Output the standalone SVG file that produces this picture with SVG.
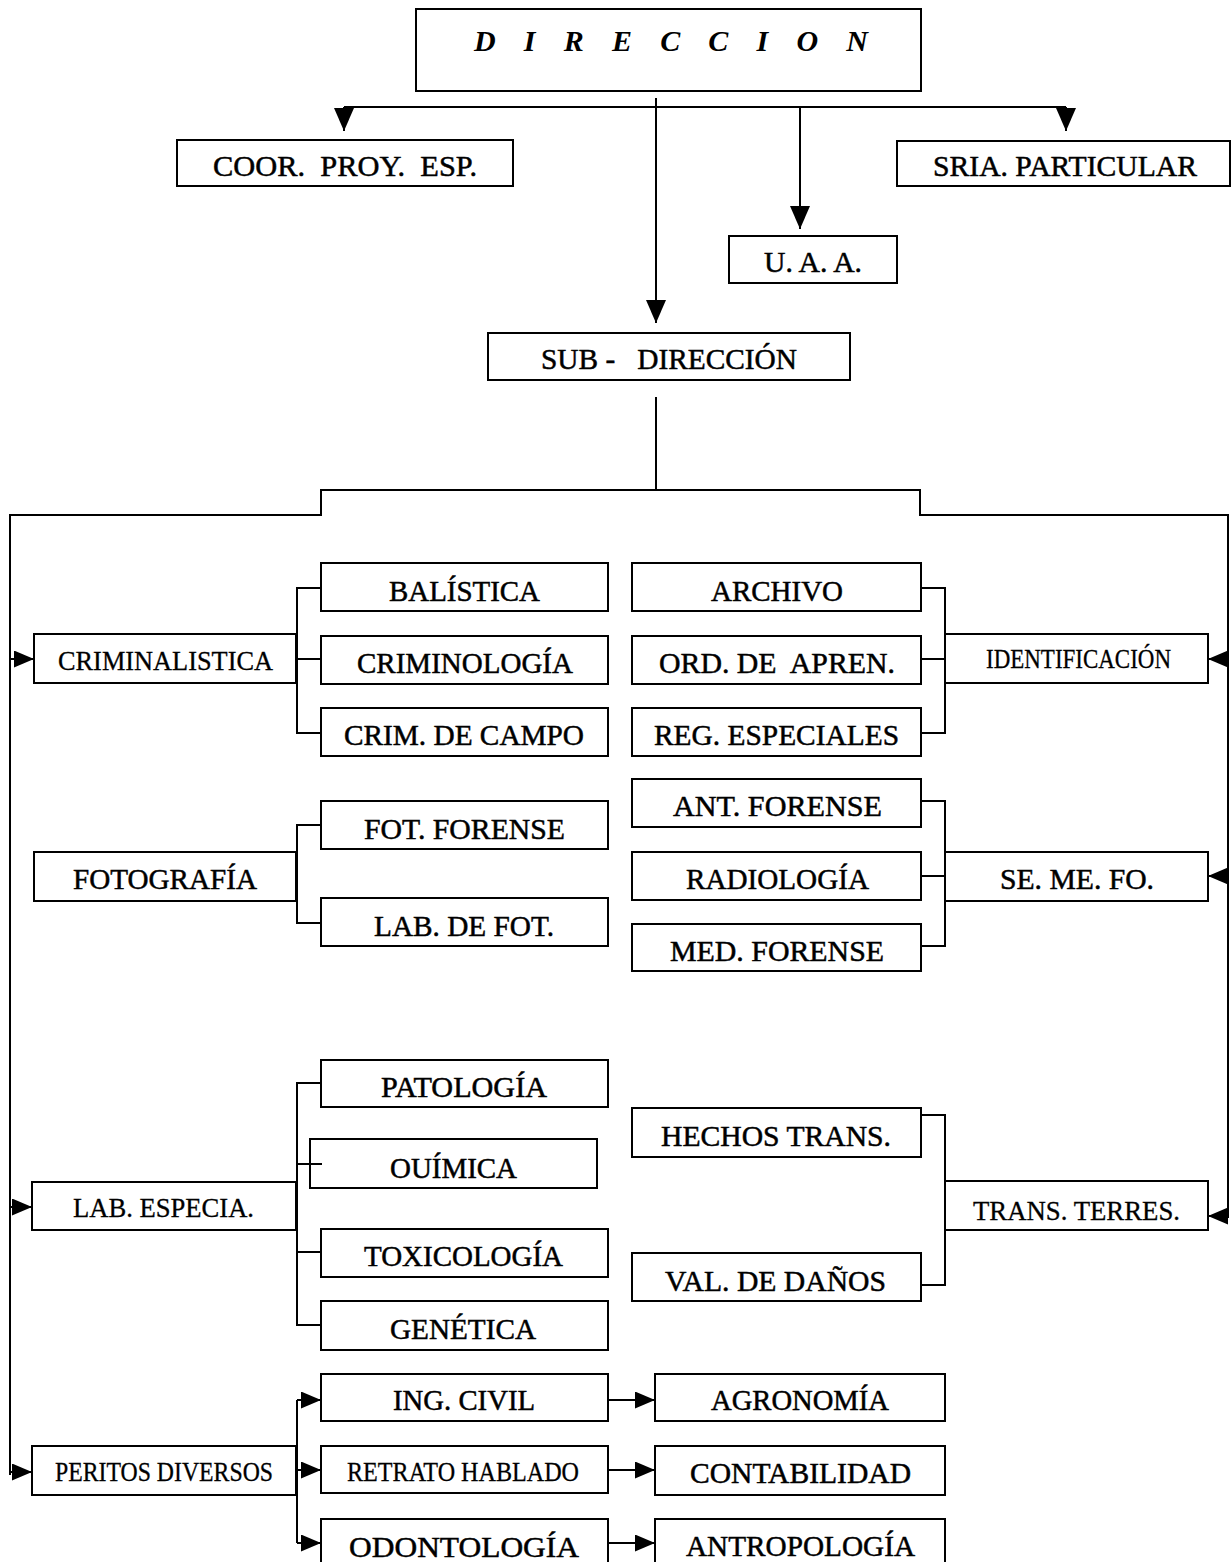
<svg xmlns="http://www.w3.org/2000/svg" width="1232" height="1562" viewBox="0 0 1232 1562">
<style>
  .box { fill: #ffffff; stroke: #000000; stroke-width: 2; }
  .t { font-family: "Liberation Serif", "Times New Roman", serif; font-size: 30px; fill: #000000; stroke: #000000; stroke-width: 0.5; }
  .s { font-size: 27px; stroke-width: 0.3; }
  .title { font-weight: bold; font-style: italic; stroke-width: 0; }
  .c { fill: none; stroke: #000000; stroke-width: 2; }
</style>
<defs>
  <marker id="ab" viewBox="0 0 23 20" refX="23" refY="10" markerWidth="23" markerHeight="20" markerUnits="userSpaceOnUse" orient="auto">
    <path d="M0,0 L23,10 L0,20 z" fill="#000000"/>
  </marker>
  <marker id="am" viewBox="0 0 20 17" refX="20" refY="8.5" markerWidth="20" markerHeight="17" markerUnits="userSpaceOnUse" orient="auto">
    <path d="M0,0 L20,8.5 L0,17 z" fill="#000000"/>
  </marker>
</defs>
<rect x="0" y="0" width="1232" height="1562" fill="#ffffff"/>

<g id="n-direccion"><rect class="box" x="416" y="9" width="505" height="82"/><text class="t title" x="474" y="51" textLength="394" lengthAdjust="spacing">D I R E C C I O N</text></g>
<g id="n-coor"><rect class="box" x="177" y="140" width="336" height="46"/><text class="t" x="213" y="176" textLength="264" lengthAdjust="spacingAndGlyphs" xml:space="preserve">COOR.  PROY.  ESP.</text></g>
<g id="n-sria"><rect class="box" x="897" y="141" width="333" height="45"/><text class="t" x="933" y="176" textLength="264" lengthAdjust="spacingAndGlyphs">SRIA. PARTICULAR</text></g>
<g id="n-uaa"><rect class="box" x="729" y="236" width="168" height="47"/><text class="t" x="764" y="272" textLength="98" lengthAdjust="spacingAndGlyphs">U. A. A.</text></g>
<g id="n-subdireccion"><rect class="box" x="488" y="333" width="362" height="47"/><text class="t" x="541" y="369" textLength="256" lengthAdjust="spacingAndGlyphs" xml:space="preserve">SUB -   DIRECCIÓN</text></g>

<g id="n-criminalistica"><rect class="box" x="34" y="634" width="262" height="49"/><text class="t s" x="58" y="670" textLength="215" lengthAdjust="spacingAndGlyphs">CRIMINALISTICA</text></g>
<g id="n-fotografia"><rect class="box" x="34" y="852" width="262" height="49"/><text class="t" x="73" y="889" textLength="184" lengthAdjust="spacingAndGlyphs">FOTOGRAFÍA</text></g>
<g id="n-labespecia"><rect class="box" x="32" y="1182" width="264" height="48"/><text class="t s" x="73" y="1217" textLength="181" lengthAdjust="spacingAndGlyphs">LAB. ESPECIA.</text></g>
<g id="n-peritos"><rect class="box" x="32" y="1446" width="264" height="49"/><text class="t s" x="55" y="1481" textLength="218" lengthAdjust="spacingAndGlyphs">PERITOS DIVERSOS</text></g>

<g id="n-balistica"><rect class="box" x="321" y="563" width="287" height="48"/><text class="t" x="389" y="601" textLength="151" lengthAdjust="spacingAndGlyphs">BALÍSTICA</text></g>
<g id="n-criminologia"><rect class="box" x="321" y="636" width="287" height="48"/><text class="t" x="357" y="673" textLength="216" lengthAdjust="spacingAndGlyphs">CRIMINOLOGÍA</text></g>
<g id="n-crimcampo"><rect class="box" x="321" y="708" width="287" height="48"/><text class="t" x="344" y="745" textLength="240" lengthAdjust="spacingAndGlyphs">CRIM. DE CAMPO</text></g>
<g id="n-fotforense"><rect class="box" x="321" y="801" width="287" height="48"/><text class="t" x="364" y="839" textLength="201" lengthAdjust="spacingAndGlyphs">FOT. FORENSE</text></g>
<g id="n-labfot"><rect class="box" x="321" y="898" width="287" height="48"/><text class="t" x="374" y="936" textLength="180" lengthAdjust="spacingAndGlyphs">LAB. DE FOT.</text></g>
<g id="n-patologia"><rect class="box" x="321" y="1060" width="287" height="47"/><text class="t" x="381" y="1097" textLength="166" lengthAdjust="spacingAndGlyphs">PATOLOGÍA</text></g>
<g id="n-quimica"><rect class="box" x="310" y="1139" width="287" height="49"/><text class="t" x="390" y="1178" textLength="127" lengthAdjust="spacingAndGlyphs">OUÍMICA</text></g>
<g id="n-toxicologia"><rect class="box" x="321" y="1229" width="287" height="48"/><text class="t" x="364" y="1266" textLength="199" lengthAdjust="spacingAndGlyphs">TOXICOLOGÍA</text></g>
<g id="n-genetica"><rect class="box" x="321" y="1301" width="287" height="49"/><text class="t" x="390" y="1339" textLength="146" lengthAdjust="spacingAndGlyphs">GENÉTICA</text></g>
<g id="n-ingcivil"><rect class="box" x="321" y="1374" width="287" height="47"/><text class="t" x="393" y="1410" textLength="142" lengthAdjust="spacingAndGlyphs">ING. CIVIL</text></g>
<g id="n-retrato"><rect class="box" x="321" y="1446" width="287" height="47"/><text class="t s" x="347" y="1481" textLength="232" lengthAdjust="spacingAndGlyphs">RETRATO HABLADO</text></g>
<g id="n-odontologia"><rect class="box" x="321" y="1519" width="287" height="60"/><text class="t" x="349" y="1557" textLength="230" lengthAdjust="spacingAndGlyphs">ODONTOLOGÍA</text></g>

<g id="n-archivo"><rect class="box" x="632" y="563" width="289" height="48"/><text class="t" x="711" y="601" textLength="132" lengthAdjust="spacingAndGlyphs">ARCHIVO</text></g>
<g id="n-ordapren"><rect class="box" x="632" y="636" width="289" height="48"/><text class="t" x="659" y="673" textLength="236" lengthAdjust="spacingAndGlyphs" xml:space="preserve">ORD. DE  APREN.</text></g>
<g id="n-regesp"><rect class="box" x="632" y="708" width="289" height="48"/><text class="t" x="654" y="745" textLength="245" lengthAdjust="spacingAndGlyphs">REG. ESPECIALES</text></g>
<g id="n-antforense"><rect class="box" x="632" y="779" width="289" height="48"/><text class="t" x="673" y="816" textLength="209" lengthAdjust="spacingAndGlyphs">ANT. FORENSE</text></g>
<g id="n-radiologia"><rect class="box" x="632" y="852" width="289" height="48"/><text class="t" x="686" y="889" textLength="183" lengthAdjust="spacingAndGlyphs">RADIOLOGÍA</text></g>
<g id="n-medforense"><rect class="box" x="632" y="924" width="289" height="47"/><text class="t" x="670" y="961" textLength="214" lengthAdjust="spacingAndGlyphs">MED. FORENSE</text></g>
<g id="n-hechos"><rect class="box" x="632" y="1108" width="289" height="49"/><text class="t" x="661" y="1146" textLength="230" lengthAdjust="spacingAndGlyphs">HECHOS TRANS.</text></g>
<g id="n-valdanos"><rect class="box" x="632" y="1253" width="289" height="48"/><text class="t" x="665" y="1291" textLength="221" lengthAdjust="spacingAndGlyphs">VAL. DE DAÑOS</text></g>

<g id="n-identificacion"><rect class="box" x="945" y="634" width="263" height="49"/><text class="t s" x="986" y="668" textLength="185" lengthAdjust="spacingAndGlyphs">IDENTIFICACIÓN</text></g>
<g id="n-semefo"><rect class="box" x="945" y="852" width="263" height="49"/><text class="t" x="1000" y="889" textLength="154" lengthAdjust="spacingAndGlyphs">SE. ME. FO.</text></g>
<g id="n-transterres"><rect class="box" x="945" y="1181" width="263" height="49"/><text class="t s" x="973" y="1220" textLength="207" lengthAdjust="spacingAndGlyphs">TRANS. TERRES.</text></g>

<g id="n-agronomia"><rect class="box" x="655" y="1374" width="290" height="47"/><text class="t" x="711" y="1410" textLength="178" lengthAdjust="spacingAndGlyphs">AGRONOMÍA</text></g>
<g id="n-contabilidad"><rect class="box" x="655" y="1446" width="290" height="49"/><text class="t" x="690" y="1483" textLength="221" lengthAdjust="spacingAndGlyphs">CONTABILIDAD</text></g>
<g id="n-antropologia"><rect class="box" x="655" y="1519" width="290" height="60"/><text class="t" x="686" y="1556" textLength="229" lengthAdjust="spacingAndGlyphs">ANTROPOLOGÍA</text></g>

<g id="connectors">
  <path class="c" d="M344,107 H1066"/>
  <path class="c" d="M344,107 V131" marker-end="url(#ab)"/>
  <path class="c" d="M1066,107 V131" marker-end="url(#ab)"/>
  <path class="c" d="M800,107 V229" marker-end="url(#ab)"/>
  <path class="c" d="M656,98 V323" marker-end="url(#ab)"/>
  <path class="c" d="M656,397 V490"/>
  <path class="c" d="M10,1475 V515 H321 V490 H920 V515 H1228 V1218"/>
  <path class="c" d="M10,659 H34" marker-end="url(#am)"/>
  <path class="c" d="M10,1207 H32" marker-end="url(#am)"/>
  <path class="c" d="M10,1472 H32" marker-end="url(#am)"/>
  <path class="c" d="M1228,659 H1208" marker-end="url(#am)"/>
  <path class="c" d="M1228,876 H1208" marker-end="url(#am)"/>
  <path class="c" d="M1228,1216 H1208" marker-end="url(#am)"/>
  <path class="c" d="M321,588 H297 V733 H321 M297,659 H321"/>
  <path class="c" d="M321,825 H297 V923 H321"/>
  <path class="c" d="M321,1083 H297 V1325 H321 M297,1164 H322 M297,1252 H321"/>
  <path class="c" d="M297,1400 V1543"/>
  <path class="c" d="M297,1400 H321" marker-end="url(#am)"/>
  <path class="c" d="M297,1470 H321" marker-end="url(#am)"/>
  <path class="c" d="M297,1543 H321" marker-end="url(#am)"/>
  <path class="c" d="M608,1400 H655" marker-end="url(#am)"/>
  <path class="c" d="M608,1470 H655" marker-end="url(#am)"/>
  <path class="c" d="M608,1543 H655" marker-end="url(#am)"/>
  <path class="c" d="M921,588 H945 V733 H921 M921,659 H945"/>
  <path class="c" d="M921,801 H945 V946 H921 M921,876 H945"/>
  <path class="c" d="M921,1115 H945 V1285 H921"/>
</g>
</svg>
